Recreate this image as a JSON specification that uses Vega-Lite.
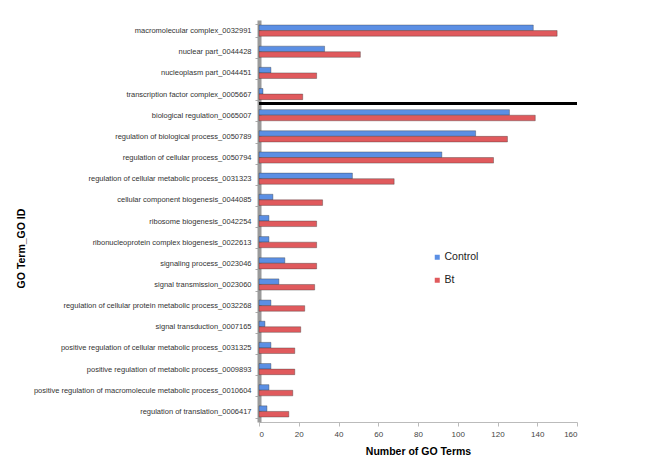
{
  "$schema": "https://vega.github.io/schema/vega-lite/v6.json",
  "autosize": "none",
  "width": 318,
  "height": 402,
  "padding": {"left": 259, "top": 20, "right": 79, "bottom": 50},
  "background": "white",
  "config": {
    "view": {"stroke": null},
    "font": "Liberation Sans"
  },
  "datasets": {
    "go": [
      {"term": "macromolecular complex_0032991", "series": "Control", "count": 138},
      {"term": "macromolecular complex_0032991", "series": "Bt", "count": 150},
      {"term": "nuclear part_0044428", "series": "Control", "count": 33},
      {"term": "nuclear part_0044428", "series": "Bt", "count": 51},
      {"term": "nucleoplasm part_0044451", "series": "Control", "count": 6},
      {"term": "nucleoplasm part_0044451", "series": "Bt", "count": 29},
      {"term": "transcription factor complex_0005667", "series": "Control", "count": 2},
      {"term": "transcription factor complex_0005667", "series": "Bt", "count": 22},
      {"term": "biological regulation_0065007", "series": "Control", "count": 126},
      {"term": "biological regulation_0065007", "series": "Bt", "count": 139},
      {"term": "regulation of biological process_0050789", "series": "Control", "count": 109},
      {"term": "regulation of biological process_0050789", "series": "Bt", "count": 125},
      {"term": "regulation of cellular process_0050794", "series": "Control", "count": 92},
      {"term": "regulation of cellular process_0050794", "series": "Bt", "count": 118},
      {"term": "regulation of cellular metabolic process_0031323", "series": "Control", "count": 47},
      {"term": "regulation of cellular metabolic process_0031323", "series": "Bt", "count": 68},
      {"term": "cellular component biogenesis_0044085", "series": "Control", "count": 7},
      {"term": "cellular component biogenesis_0044085", "series": "Bt", "count": 32},
      {"term": "ribosome biogenesis_0042254", "series": "Control", "count": 5},
      {"term": "ribosome biogenesis_0042254", "series": "Bt", "count": 29},
      {"term": "ribonucleoprotein complex biogenesis_0022613", "series": "Control", "count": 5},
      {"term": "ribonucleoprotein complex biogenesis_0022613", "series": "Bt", "count": 29},
      {"term": "signaling process_0023046", "series": "Control", "count": 13},
      {"term": "signaling process_0023046", "series": "Bt", "count": 29},
      {"term": "signal transmission_0023060", "series": "Control", "count": 10},
      {"term": "signal transmission_0023060", "series": "Bt", "count": 28},
      {"term": "regulation of cellular protein metabolic process_0032268", "series": "Control", "count": 6},
      {"term": "regulation of cellular protein metabolic process_0032268", "series": "Bt", "count": 23},
      {"term": "signal transduction_0007165", "series": "Control", "count": 3},
      {"term": "signal transduction_0007165", "series": "Bt", "count": 21},
      {"term": "positive regulation of cellular metabolic process_0031325", "series": "Control", "count": 6},
      {"term": "positive regulation of cellular metabolic process_0031325", "series": "Bt", "count": 18},
      {"term": "positive regulation of metabolic process_0009893", "series": "Control", "count": 6},
      {"term": "positive regulation of metabolic process_0009893", "series": "Bt", "count": 18},
      {"term": "positive regulation of macromolecule metabolic process_0010604", "series": "Control", "count": 5},
      {"term": "positive regulation of macromolecule metabolic process_0010604", "series": "Bt", "count": 17},
      {"term": "regulation of translation_0006417", "series": "Control", "count": 4},
      {"term": "regulation of translation_0006417", "series": "Bt", "count": 15}
    ],
    "divider": [
      {"term": "transcription factor complex_0005667"}
    ]
  },
  "layer": [
    {
      "data": {"name": "go"},
      "mark": {"type": "bar", "stroke": "#333", "strokeWidth": 0.6, "strokeOpacity": 0.6},
      "encoding": {
        "y": {
          "field": "term",
          "type": "nominal",
          "sort": null,
          "scale": {"paddingInner": 0.42, "paddingOuter": 0.21},
          "axis": {
            "title": "GO Term_GO ID",
            "titleFont": "Liberation Sans",
            "titleFontSize": 10.5,
            "titleFontWeight": "bold",
            "titleColor": "#000",
            "titleAngle": -90,
            "titleAlign": "center",
            "titleBaseline": "middle",
            "titleX": -238,
            "titleY": 228,
            "labelFontSize": 7.5,
            "labelColor": "#333",
            "labelPadding": 4,
            "domainColor": "#9a9a9a",
            "domainWidth": 4,
            "tickColor": "#aaa",
            "tickSize": 4,
            "tickBand": "extent",
            "labelLimit": 300
          }
        },
        "yOffset": {"field": "series", "type": "nominal", "sort": ["Control", "Bt"], "scale": {"paddingOuter": 0.1}},
        "x": {
          "field": "count",
          "type": "quantitative",
          "scale": {"domain": [0, 160], "nice": false},
          "axis": {
            "values": [0, 20, 40, 60, 80, 100, 120, 140, 160],
            "title": "Number of GO Terms",
            "titleFontSize": 10.5,
            "titleFontWeight": "bold",
            "titleColor": "#000",
            "titleBaseline": "middle",
            "titleY": 29,
            "labelFontSize": 8,
            "labelColor": "#444",
            "labelPadding": 4,
            "domainColor": "#bbb",
            "tickColor": "#bbb",
            "tickSize": 4,
            "grid": false
          }
        },
        "color": {
          "field": "series",
          "type": "nominal",
          "scale": {"domain": ["Control", "Bt"], "range": ["#5b8fe4", "#e05a5d"]},
          "legend": {
            "title": null,
            "orient": "none",
            "legendX": 173,
            "legendY": 232,
            "symbolType": "square",
            "symbolSize": 25,
            "symbolStrokeWidth": 0,
            "labelFontSize": 10.5,
            "labelColor": "#222",
            "labelOffset": 2,
            "rowPadding": 12
          }
        }
      }
    },
    {
      "data": {"name": "divider"},
      "mark": {"type": "rule", "color": "#000", "strokeWidth": 3},
      "encoding": {
        "y": {"field": "term", "type": "nominal", "sort": null, "bandPosition": 1.27}
      }
    }
  ]
}
